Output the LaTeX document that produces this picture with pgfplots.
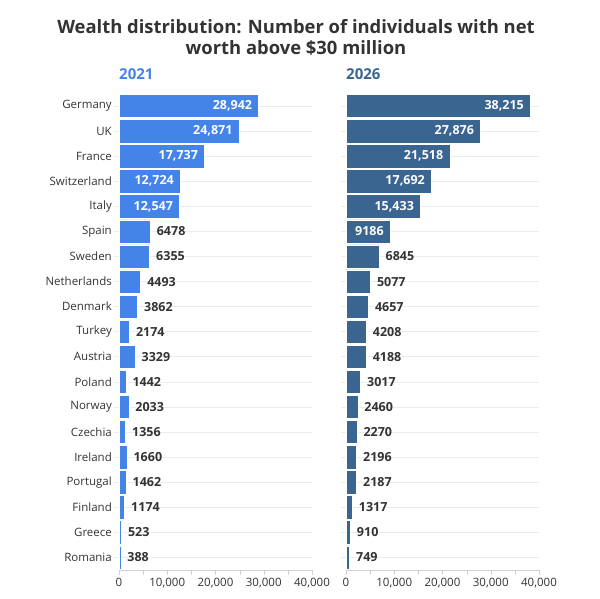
\documentclass[border=0pt]{standalone}
\usepackage{pgfplots}
\pgfplotsset{compat=1.18}
\usepackage{pgfplotstable}
\usepackage{fontspec}
\setmainfont{Open Sans}
\definecolor{blueA}{HTML}{4483E8}
\definecolor{blueB}{HTML}{3B6591}
\definecolor{txt}{HTML}{333333}
\definecolor{gridc}{HTML}{EBEBEB}
\definecolor{axc}{HTML}{D0D0D0}

\pgfplotstableread{
y x lab
0 28942 {28,942}
1 24871 {24,871}
2 17737 {17,737}
3 12724 {12,724}
4 12547 {12,547}
}\leftbig
\pgfplotstableread{
y x lab
5 6478 6478
6 6355 6355
7 4493 4493
8 3862 3862
9 2174 2174
10 3329 3329
11 1442 1442
12 2033 2033
13 1356 1356
14 1660 1660
15 1462 1462
16 1174 1174
17 523 523
18 388 388
}\leftsmall
\pgfplotstableread{
y x lab
0 38215 {38,215}
1 27876 {27,876}
2 21518 {21,518}
3 17692 {17,692}
4 15433 {15,433}
5 9186 9186
}\rightbig
\pgfplotstableread{
y x lab
6 6845 6845
7 5077 5077
8 4657 4657
9 4208 4208
10 4188 4188
11 3017 3017
12 2460 2460
13 2270 2270
14 2196 2196
15 2187 2187
16 1317 1317
17 910 910
18 749 749
}\rightsmall

\pgfplotsset{
  panel/.style={
    scale only axis, width=193pt, height=476.5pt,
    anchor=north west,
    xbar, bar width=0.93, bar shift=0pt,
    xmin=0, xmax=40000, ymin=-0.5, ymax=18.5, y dir=reverse,
    axis x line*=bottom, axis y line*=left,
    y axis line style={draw=none},
    xtick={0,10000,20000,30000,40000},
    minor xtick={5000,15000,25000,35000},
    tick align=outside, major tick length=5pt, minor tick length=5pt,
    x axis line style={draw=axc},
    xtick style={draw=axc},
    ytick style={draw=gridc, line width=0.8pt},
    ymajorgrids, major grid style={draw=gridc, line width=0.8pt},
    ytick={0,...,18},
    scaled x ticks=false,
    /pgf/number format/1000 sep={,},
    /pgf/number format/assume math mode=true,
    xticklabel style={font=\fontsize{11.5}{13}\selectfont, text=txt},
    yticklabel style={font=\fontsize{11.5}{13}\selectfont, text=txt, inner sep=2pt},
    point meta=explicit symbolic,
    clip=false,
  },
  inl/.style={nodes near coords,
    every node near coord/.style={anchor=east, xshift=-3pt, text=white, font=\fontsize{12.5}{14}\selectfont\bfseries}},
  outl/.style={nodes near coords,
    every node near coord/.style={anchor=west, xshift=3pt, text=txt, font=\fontsize{12.5}{14}\selectfont\bfseries}},
}

\begin{document}
\begin{tikzpicture}
\useasboundingbox (0,0) rectangle (600pt,599pt);
\fill[white] (0,0) rectangle (600pt,599pt);
\node[font=\fontsize{18.4}{21}\selectfont\bfseries, text=txt, align=center] at (296pt,561pt) {Wealth distribution: Number of individuals with net\\worth above \$30 million};

\begin{axis}[panel, at={(119pt,505.5pt)},
  yticklabels={Germany,UK,France,Switzerland,Italy,Spain,Sweden,Netherlands,Denmark,Turkey,Austria,Poland,Norway,Czechia,Ireland,Portugal,Finland,Greece,Romania}]
\addplot[fill=blueA, draw=white, line width=0.5pt, inl] table[x=x, y=y, meta=lab] {\leftbig};
\addplot[fill=blueA, draw=white, line width=0.5pt, outl] table[x=x, y=y, meta=lab] {\leftsmall};
\node[anchor=south west, font=\fontsize{15}{18}\selectfont\bfseries, text=blueA, inner sep=0pt] at (rel axis cs:0,1) [yshift=14pt] {2021};
\end{axis}

\begin{axis}[panel, at={(346pt,505.5pt)}, yticklabels={}]
\addplot[fill=blueB, draw=white, line width=0.5pt, inl] table[x=x, y=y, meta=lab] {\rightbig};
\addplot[fill=blueB, draw=white, line width=0.5pt, outl] table[x=x, y=y, meta=lab] {\rightsmall};
\node[anchor=south west, font=\fontsize{15}{18}\selectfont\bfseries, text=blueB, inner sep=0pt] at (rel axis cs:0,1) [yshift=14pt] {2026};
\end{axis}
\end{tikzpicture}
\end{document}
